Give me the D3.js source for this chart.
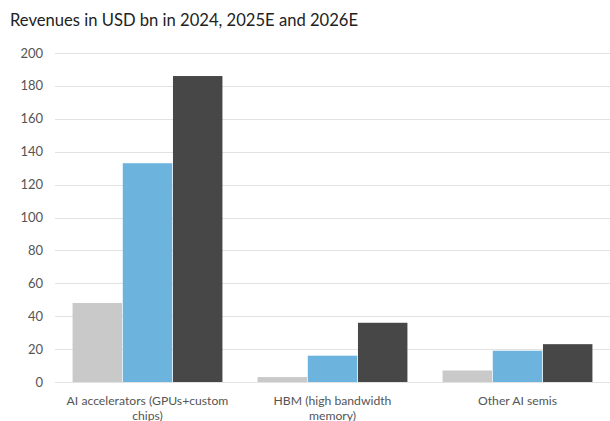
<!DOCTYPE html>
<html>
<head>
<meta charset="utf-8">
<script src="https://cdn.jsdelivr.net/npm/d3@7"></script>
<style>
  body { margin: 0; background: #fff; }
  text { font-family: Lato, "Open Sans", sans-serif; }
</style>
</head>
<body>
<script>
(function(){

    var categories = ["AI accelerators (GPUs+custom chips)", "HBM (high bandwidth memory)", "Other AI semis"];
    var labelLines = [["AI accelerators (GPUs+custom", "chips)"], ["HBM (high bandwidth", "memory)"], ["Other AI semis"]];
    var seriesNames = ["2024", "2025E", "2026E"];
    var values2024 = [48, 3, 7];
    var values2025 = [133, 16, 19];
    var values2026 = [186, 36, 23];
    var yTicks = [0, 20, 40, 60, 80, 100, 120, 140, 160, 180, 200];
    var colors = ["#c9c9c9", "#6cb4dd", "#474747"];

    var width = 610, height = 421;
    var margin = {top: 53, right: 0, bottom: 39, left: 55};

    var svg = d3.select("body")
        .append("svg")
        .attr("width", width)
        .attr("height", height);

    svg.append("text")
        .attr("x", 10)
        .attr("y", 26)
        .attr("font-size", 16.6)
        .attr("fill", "#222")
        .text("Revenues in USD bn in 2024, 2025E and 2026E");

    var x = d3.scaleBand()
        .domain(categories)
        .range([margin.left, width - margin.right])
        .paddingInner(0.19)
        .paddingOuter(0.095);

    var x1 = d3.scaleBand()
        .domain(seriesNames)
        .range([0, x.bandwidth()])
        .paddingInner(0.015);

    var y = d3.scaleLinear()
        .domain([0, 200])
        .range([height - margin.bottom, margin.top]);

    //gridlines
    svg.selectAll(".grid")
        .data(yTicks)
        .enter()
        .append("line")
        .attr("x1", margin.left)
        .attr("x2", width - margin.right)
        .attr("y1", function(d){ return Math.round(y(d)) + 0.5; })
        .attr("y2", function(d){ return Math.round(y(d)) + 0.5; })
        .attr("stroke", "#e2e2e2")
        .attr("stroke-width", 1);

    svg.selectAll(".ytick")
        .data(yTicks)
        .enter()
        .append("text")
        .attr("x", 43)
        .attr("y", function(d){ return y(d) + 4.5; })
        .attr("text-anchor", "end")
        .attr("font-size", 13)
        .attr("fill", "#555")
        .text(function(d){ return d; });

    var table = categories.map(function(c, i){
        return {cat: c, vals: [values2024[i], values2025[i], values2026[i]]};
    });

    var groups = svg.selectAll(".group")
        .data(table)
        .enter()
        .append("g")
        .attr("transform", function(d){ return "translate(" + x(d.cat) + ",0)"; });

    groups.selectAll("rect")
        .data(function(d){ return d.vals.map(function(v, j){ return {s: seriesNames[j], v: v, j: j}; }); })
        .enter()
        .append("rect")
        .attr("x", function(d){ return x1(d.s); })
        .attr("width", x1.bandwidth())
        .attr("y", function(d){ return y(d.v); })
        .attr("height", function(d){ return y(0) - y(d.v); })
        .attr("fill", function(d){ return colors[d.j]; });

    // category labels
    var lab = svg.selectAll(".xlab")
        .data(categories)
        .enter()
        .append("text")
        .attr("text-anchor", "middle")
        .attr("font-size", 12.2)
        .attr("fill", "#555");

    lab.each(function(d, i){
        var t = d3.select(this);
        labelLines[i].forEach(function(line, k){
            t.append("tspan")
                .attr("x", x(d) + x.bandwidth() / 2)
                .attr("y", 405 + k * 14.5)
                .text(line);
        });
    });

})();
</script>
</body>
</html>
